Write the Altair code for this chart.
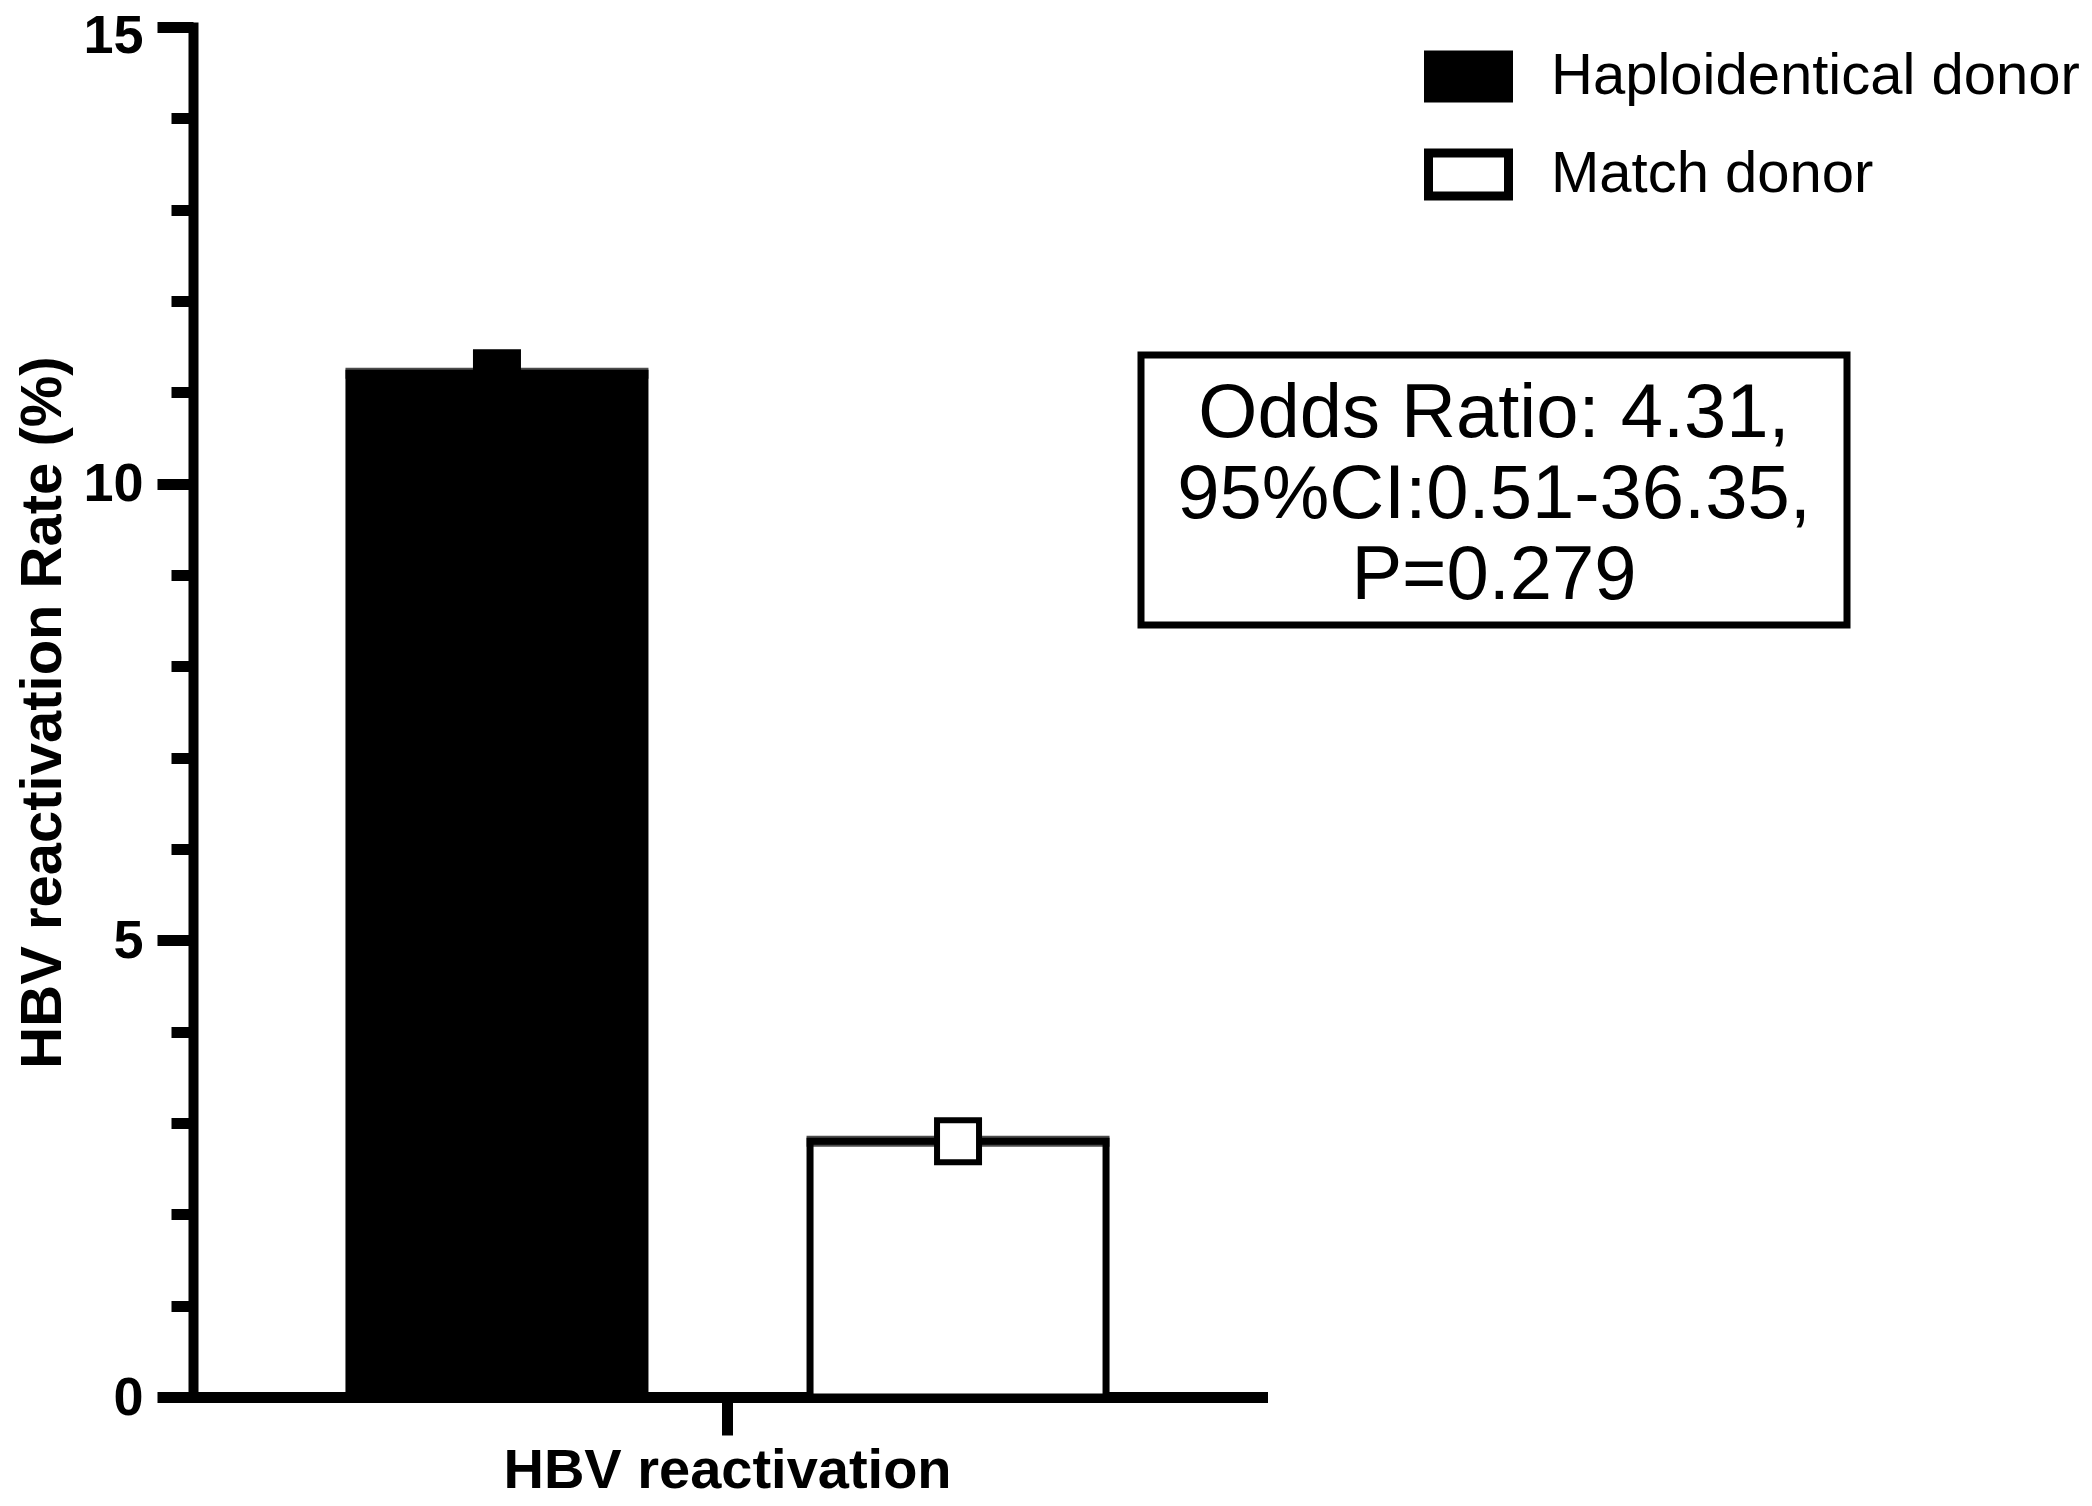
import altair as alt
import pandas as pd

# ---- data ----
groups = ["Haploidentical donor", "Match donor"]
category = ["HBV reactivation", "HBV reactivation"]
rates = [11.21, 2.8]
y_tick_values = [0, 1, 2, 3, 4, 5, 6, 7, 8, 9, 10, 11, 12, 13, 14, 15]
annotation_lines = ["Odds Ratio: 4.31,", "95%CI:0.51-36.35,", "P=0.279"]
fill_colors = ["#000000", "#ffffff"]

df = pd.DataFrame({"category": category, "group": groups, "rate": rates})
ann_df = pd.DataFrame({"note": ["odds"]})

W, H = 1069, 1370
FONT = "Liberation Sans"

x_enc = alt.X(
    "category:N",
    scale=alt.Scale(paddingInner=0, paddingOuter=0.206),
    axis=alt.Axis(
        title=None,
        labelAngle=0,
        labelFont=FONT,
        labelFontSize=56,
        labelFontWeight="bold",
        labelColor="black",
        labelBaseline="alphabetic",
        labelPadding=52,
        labelLimit=1000,
        tickSize=38,
        tickWidth=11,
        tickColor="black",
        domainWidth=11,
        domainColor="black",
        domainCap="square",
    ),
)
xoff_enc = alt.XOffset(
    "group:N", scale=alt.Scale(domain=groups, paddingInner=0.358, paddingOuter=0)
)
y_enc = alt.Y(
    "rate:Q",
    scale=alt.Scale(domain=[0, 15], nice=False),
    axis=alt.Axis(
        values=y_tick_values,
        labelExpr="datum.value % 5 === 0 ? datum.label : ''",
        grid=False,
        tickSize={"condition": {"test": "datum.value % 5 === 0", "value": 36}, "value": 22},
        tickWidth=11,
        tickColor="black",
        domainWidth=10,
        domainColor="black",
        domainCap="square",
        labelFont=FONT,
        labelFontSize=54,
        labelFontWeight="bold",
        labelColor="black",
        labelPadding=14,
        labelOffset={"condition": {"test": "datum.value === 15", "value": 9}, "value": 1},
        title="HBV reactivation Rate (%)",
        titleFont=FONT,
        titleFontSize=58,
        titleFontWeight="bold",
        titleColor="black",
        titleX=-150,
        titleY=685,
        titleAlign="center",
        titleBaseline="middle",
    ),
)
fill_scale = alt.Scale(domain=groups, range=fill_colors)

bars = alt.Chart(df).mark_bar(stroke="black", strokeWidth=7, strokeJoin="miter").encode(
    x=x_enc,
    xOffset=xoff_enc,
    y=y_enc,
    fill=alt.Fill(
        "group:N",
        scale=fill_scale,
        legend=alt.Legend(
            title=None,
            orient="none",
            legendX=1231,
            legendY=5,
            padding=0,
            symbolType="M-1,-0.54L1,-0.54L1,0.54L-1,0.54Z",
            symbolSize=6400,
            symbolStrokeWidth=9,
            symbolStrokeColor="black",
            symbolOpacity=1,
            labelFont=FONT,
            labelFontSize=58,
            labelColor="black",
            labelOffset=38,
            labelLimit=1000,
            rowPadding=13,
        ),
    ),
)

tops = alt.Chart(df).mark_tick(color="black", thickness=11, size=303).encode(
    x=x_enc, xOffset=xoff_enc, y=y_enc
)

points = alt.Chart(df).mark_point(
    shape="square", filled=True, size=1764, stroke="black", strokeWidth=6, opacity=1
).encode(
    x=x_enc,
    xOffset=xoff_enc,
    y=y_enc,
    fill=alt.Fill("group:N", scale=fill_scale, legend=None),
)

box = alt.Chart(ann_df).mark_rect(
    filled=False, stroke="black", strokeWidth=7
).encode(
    x=alt.value(948), x2=alt.value(1654), y=alt.value(328), y2=alt.value(598)
)

note = alt.Chart(ann_df).mark_text(
    text=annotation_lines,
    font=FONT,
    fontSize=76,
    lineHeight=81,
    align="center",
    baseline="alphabetic",
    color="black",
).encode(x=alt.value(1301), y=alt.value(410))

chart = (
    alt.layer(bars, tops, points, box, note)
    .properties(
        width=W,
        height=H,
        autosize=alt.AutoSizeParams(type="none"),
        padding={"left": 185, "top": 19, "right": 822, "bottom": 101},
        background="white",
    )
    .configure_view(stroke="transparent")
)

chart.save("out.html", embed_options={"renderer": "svg", "actions": False})
